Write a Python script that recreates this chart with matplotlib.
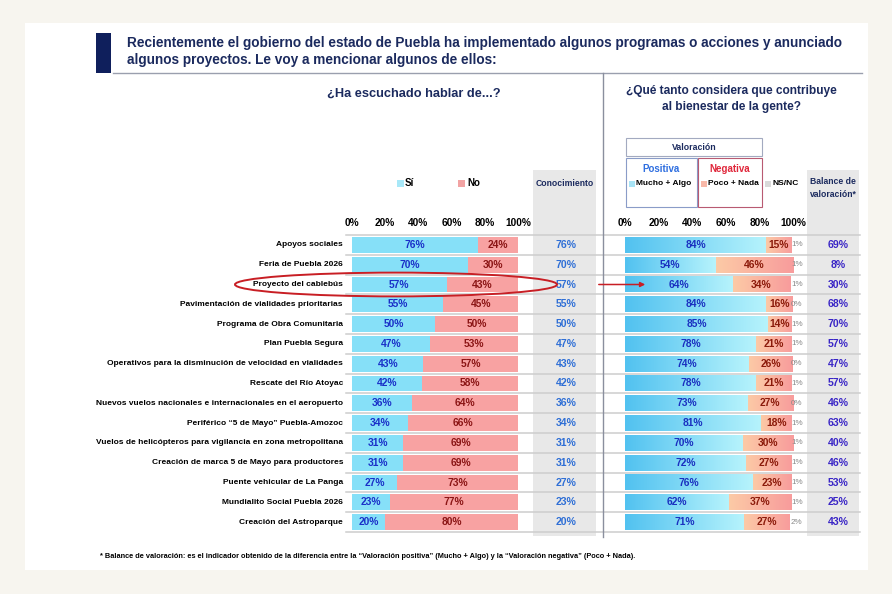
import numpy as np
import matplotlib.pyplot as plt
import matplotlib.transforms as mtransforms
from matplotlib.patches import Rectangle, Ellipse, FancyArrowPatch
from matplotlib.lines import Line2D
from matplotlib.colors import LinearSegmentedColormap
from matplotlib import font_manager

W, H = 892, 594

labels = [
    'Apoyos sociales',
    'Feria de Puebla 2026',
    'Proyecto del cablebús',
    'Pavimentación de vialidades prioritarias',
    'Programa de Obra Comunitaria',
    'Plan Puebla Segura',
    'Operativos para la disminución de velocidad en vialidades',
    'Rescate del Río Atoyac',
    'Nuevos vuelos nacionales e internacionales en el aeropuerto',
    'Periférico “5 de Mayo” Puebla-Amozoc',
    'Vuelos de helicópteros para vigilancia en zona metropolitana',
    'Creación de marca 5 de Mayo para productores',
    'Puente vehicular de La Panga',
    'Mundialito Social Puebla 2026',
    'Creación del Astroparque',
]
si = [76, 70, 57, 55, 50, 47, 43, 42, 36, 34, 31, 31, 27, 23, 20]
no = [24, 30, 43, 45, 50, 53, 57, 58, 64, 66, 69, 69, 73, 77, 80]
conocimiento = [76, 70, 57, 55, 50, 47, 43, 42, 36, 34, 31, 31, 27, 23, 20]
positiva = [84, 54, 64, 84, 85, 78, 74, 78, 73, 81, 70, 72, 76, 62, 71]
negativa = [15, 46, 34, 16, 14, 21, 26, 21, 27, 18, 30, 27, 23, 37, 27]
nsnc = [1, 1, 1, 0, 1, 1, 0, 1, 0, 1, 1, 1, 1, 1, 2]
balance = [69, 8, 30, 68, 70, 57, 47, 57, 46, 63, 40, 46, 53, 25, 43]
ticks = [0, 20, 40, 60, 80, 100]

NAVY = '#1b2a5e'
installed = {f.name for f in font_manager.fontManager.ttflist}
NARROW = [f for f in ['Liberation Sans Narrow', 'DejaVu Sans Condensed', 'Liberation Sans']
          if f in installed] + ['DejaVu Sans']
plt.rcParams['font.family'] = NARROW
plt.rcParams['font.weight'] = 'bold'

blue_cmap = LinearSegmentedColormap.from_list('pos', ['#52c2f0', '#b6f3fc'])
red_cmap = LinearSegmentedColormap.from_list('neg', ['#fccaa6', '#f89c9c'])


def fx(x):
    return x / W


def fy(y):
    return 1 - y / H


fig = plt.figure(figsize=(W / 100, H / 100), dpi=100, facecolor='#f7f5ef')

# white panel and title block
fig.patches.append(Rectangle((fx(25), fy(570)), fx(843), 547 / H, transform=fig.transFigure,
                             facecolor='white', edgecolor='none', zorder=-3))
fig.patches.append(Rectangle((fx(96), fy(73)), fx(15), 40 / H, transform=fig.transFigure,
                             facecolor='#0f1f5c', edgecolor='none', zorder=1))
fig.text(fx(127), fy(43), 'Recientemente el gobierno del estado de Puebla ha implementado algunos programas o acciones y anunciado',
         family=['Liberation Sans', 'DejaVu Sans'], fontsize=9.8, color=NAVY, va='center')
fig.text(fx(127), fy(60), 'algunos proyectos. Le voy a mencionar algunos de ellos:',
         family=['Liberation Sans', 'DejaVu Sans'], fontsize=9.8, color=NAVY, va='center')
fig.add_artist(Line2D([fx(113), fx(862)], [fy(73), fy(73)], color='#9a9fae', lw=1.0))
fig.add_artist(Line2D([fx(603), fx(603)], [fy(73), fy(537)], color='#8a8f9e', lw=1.0))

fig.text(fx(414), fy(94), '¿Ha escuchado hablar de...?', fontsize=9.2, color=NAVY, ha='center', va='center')
fig.text(fx(731), fy(99), '¿Qué tanto considera que contribuye\nal bienestar de la gente?', fontsize=8.6,
         color=NAVY, ha='center', va='center', linespacing=1.55)

# gray columns
for x0, x1 in [(533, 596), (807, 859)]:
    fig.patches.append(Rectangle((fx(x0), fy(536)), fx(x1 - x0), 366 / H, transform=fig.transFigure,
                                 facecolor='#e8e8e8', edgecolor='none', zorder=-2))

fig.text(fx(565), fy(184), 'Conocimiento', fontsize=6.2, color=NAVY, ha='center', va='center')
fig.text(fx(833), fy(188), 'Balance de\nvaloración*', fontsize=6.2, color=NAVY, ha='center', va='center',
         linespacing=1.5)

# left legend
for x, txt, c in [(400, 'Sí', '#a8e8f8'), (462, 'No', '#f2a3a3')]:
    fig.patches.append(Rectangle((fx(x - 3.5), fy(187)), fx(7), 7 / H, transform=fig.transFigure,
                                 facecolor=c, edgecolor='none'))
    fig.text(fx(x + 5), fy(183.5), txt, fontsize=7, ha='left', va='center')

# right legend boxes
fig.patches.append(Rectangle((fx(626), fy(156)), fx(136), 18 / H, transform=fig.transFigure,
                             facecolor='none', edgecolor='#a3aac0', lw=0.8))
fig.patches.append(Rectangle((fx(626), fy(207)), fx(71), 49 / H, transform=fig.transFigure,
                             facecolor='none', edgecolor='#8a9cc8', lw=0.8))
fig.patches.append(Rectangle((fx(698), fy(207)), fx(64), 49 / H, transform=fig.transFigure,
                             facecolor='none', edgecolor='#b85a72', lw=0.8))
fig.text(fx(694), fy(147), 'Valoración', fontsize=6.3, color=NAVY, ha='center', va='center')
fig.text(fx(661), fy(169), 'Positiva', fontsize=7, color='#2f6fe0', ha='center', va='center')
fig.text(fx(730), fy(169), 'Negativa', fontsize=7, color='#e0283c', ha='center', va='center')
for x, txt, c in [(632, 'Mucho + Algo', '#a8e4f6'), (704, 'Poco + Nada', '#f8b8a8'), (768, 'NS/NC', '#d9d9d9')]:
    fig.patches.append(Rectangle((fx(x - 3), fy(187)), fx(6), 6 / H, transform=fig.transFigure,
                                 facecolor=c, edgecolor='none'))
    fig.text(fx(x + 4.5), fy(184), txt, fontsize=6.0, ha='left', va='center')

# bar axes
n = len(labels)
rows = np.arange(n)
bottom = 1 - 532 / H
height = 297 / H
axL = fig.add_axes([fx(352), bottom, fx(166), height])
axR = fig.add_axes([fx(625), bottom, fx(168), height])

for ax in (axL, axR):
    ax.set_facecolor('none')
    for s in ax.spines.values():
        s.set_visible(False)
    ax.xaxis.tick_top()
    ax.set_xticks(ticks)
    ax.set_xticklabels(['{}%'.format(t) for t in ticks], fontsize=7.3)
    ax.tick_params(axis='x', length=0, pad=5)
    ax.set_yticks([])

bh = 0.8
axL.barh(rows, si, height=bh, color='#86e0f8', zorder=2)
axL.barh(rows, no, left=si, height=bh, color='#f8a2a2', zorder=2)
for i in rows:
    axL.text(si[i] / 2, i, '{}%'.format(si[i]), ha='center', va='center', fontsize=7.4, color='#1a30c8', zorder=3)
    axL.text(si[i] + no[i] / 2, i, '{}%'.format(no[i]), ha='center', va='center', fontsize=7.4,
             color='#8b1515', zorder=3)

grad = np.linspace(0, 1, 64).reshape(1, -1)
for i in rows:
    axR.imshow(grad, cmap=blue_cmap, aspect='auto', zorder=2,
               extent=[0, positiva[i], i + bh / 2, i - bh / 2])
    axR.imshow(grad, cmap=red_cmap, aspect='auto', zorder=2,
               extent=[positiva[i], positiva[i] + negativa[i], i + bh / 2, i - bh / 2])
    axR.text(positiva[i] / 2, i, '{}%'.format(positiva[i]), ha='center', va='center', fontsize=7.4,
             color='#1a30c0', zorder=3)
    axR.text(positiva[i] + negativa[i] / 2, i, '{}%'.format(negativa[i]), ha='center', va='center',
             fontsize=7.4, color='#8b1a0a', zorder=3)
    axR.text(102.3, i, '{}%'.format(nsnc[i]), ha='center', va='center', fontsize=5.8, color='#8a8a8a',
             fontweight='normal', zorder=3, clip_on=False)

for ax in (axL, axR):
    ax.set_xlim(0, 100)
    ax.set_ylim(n - 0.5, -0.5)

# row labels, conocimiento, balance, separators
blend = mtransforms.blended_transform_factory(fig.transFigure, axL.transData)
for i in rows:
    fig.text(fx(343), i, labels[i], transform=blend, ha='right', va='center', fontsize=6.0)
    fig.text(fx(566), i, '{}%'.format(conocimiento[i]), transform=blend, ha='center', va='center',
             fontsize=7.6, color='#2f6fd6')
    fig.text(fx(838), i, '{}%'.format(balance[i]), transform=blend, ha='center', va='center',
             fontsize=7.6, color='#3a26c6')
for k in range(n + 1):
    fig.add_artist(Line2D([fx(346), fx(860)], [k - 0.5, k - 0.5], transform=blend,
                          color='#cdcdcd', lw=1.1, zorder=-1))

# highlight on cablebús
fig.add_artist(Ellipse((fx(396), 2), fx(322), 1.2, transform=blend, facecolor='none',
                       edgecolor='#c81e24', lw=1.4, zorder=5))
fig.add_artist(FancyArrowPatch((fx(596), 2), (fx(648), 2), transform=blend, arrowstyle='-|>',
                               mutation_scale=7, color='#c81e24', lw=1.1, zorder=5))

fig.text(fx(100), fy(556),
         '* Balance de valoración: es el indicador obtenido de la diferencia entre la “Valoración positiva” (Mucho + Algo) y la “Valoración negativa” (Poco + Nada).',
         fontsize=5.3, ha='left', va='center')

fig.savefig('out.png', dpi=100, facecolor=fig.get_facecolor())
